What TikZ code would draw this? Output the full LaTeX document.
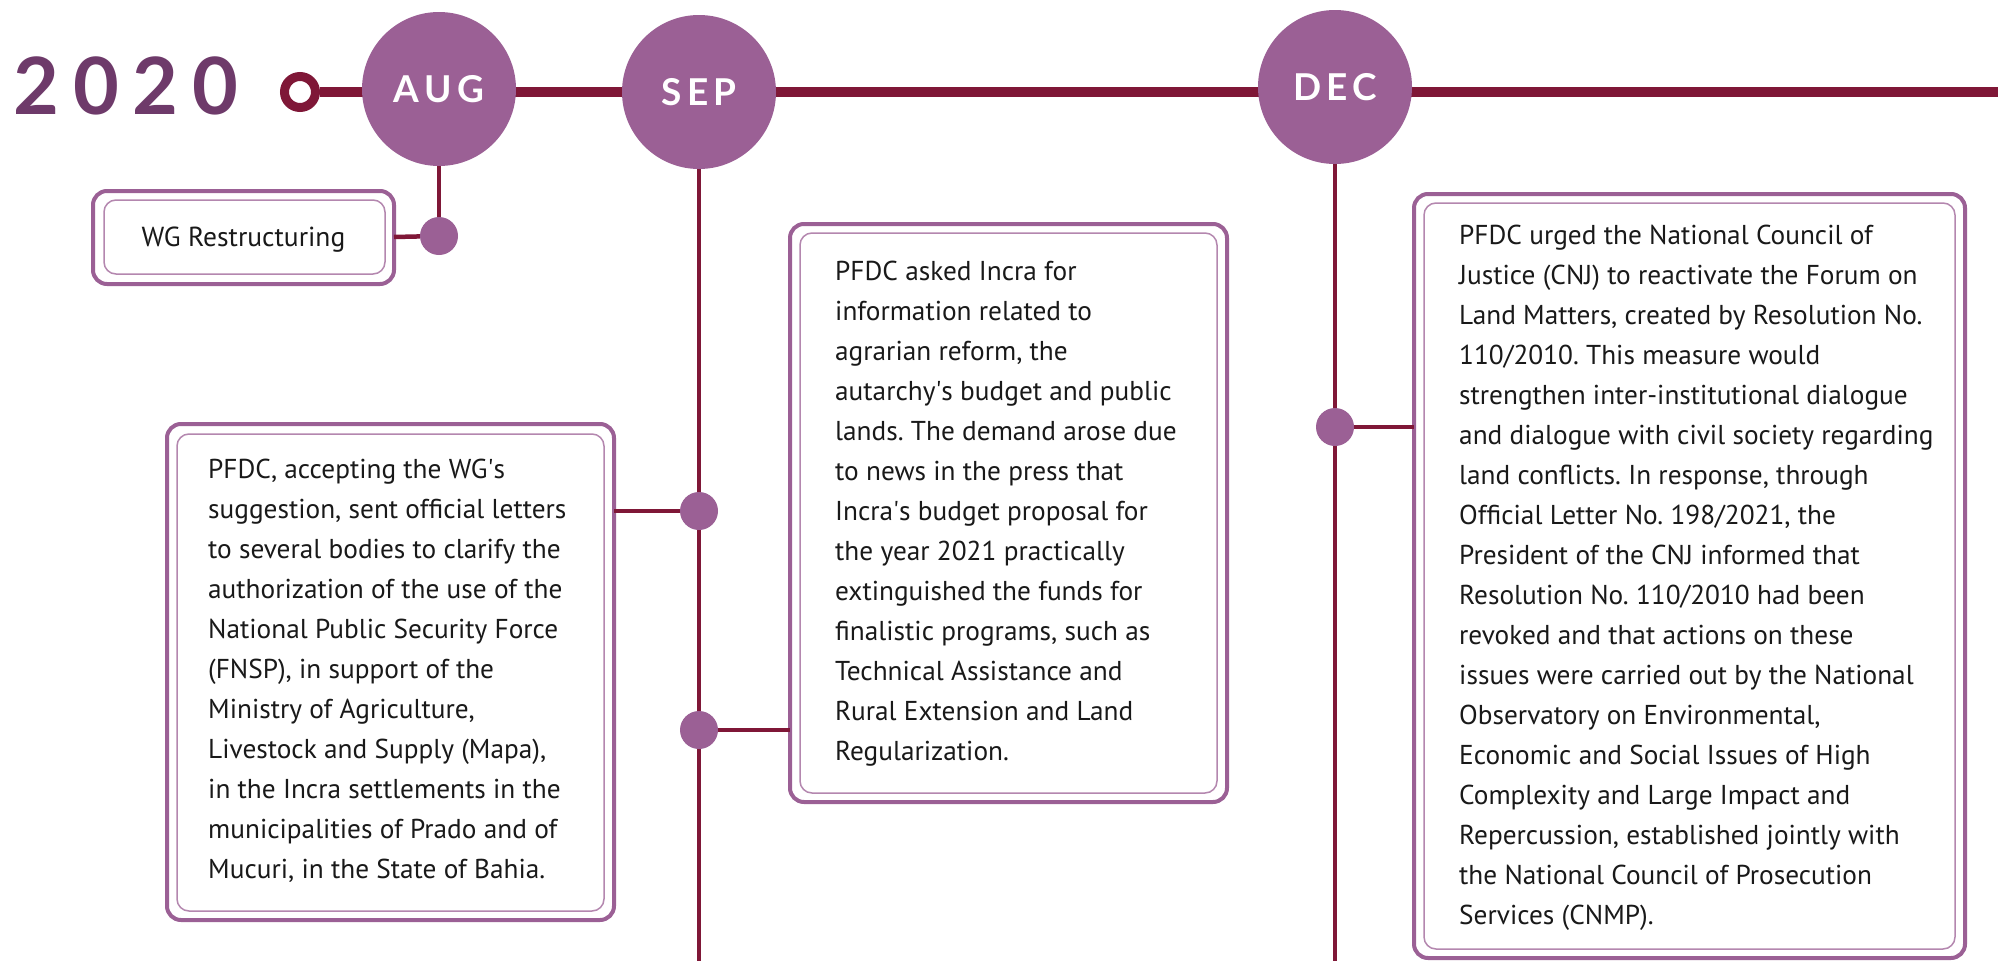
\documentclass[tikz,border=0pt]{standalone}
\usepackage{fontspec}
\setmainfont{PT Sans}
\newfontfamily\headfont{Lato}
\definecolor{maroon}{RGB}{127,23,55}
\definecolor{mpurple}{RGB}{155,96,149}
\definecolor{dpurple}{RGB}{110,58,106}
\definecolor{lpurple}{RGB}{180,135,175}
\definecolor{txt}{RGB}{25,25,25}
\newcommand{\sq}{\textquotesingle}
\frenchspacing
\tikzset{
  mainline/.style={draw=maroon, line width=10pt},
  stem/.style={draw=maroon, line width=4.5pt},
  month/.style={circle, fill=mpurple, minimum size=154pt, inner sep=0pt, text=white, font=\headfont\bfseries\fontsize{37}{37}\selectfont},
  dotnode/.style={circle, fill=mpurple, minimum size=38pt, inner sep=0pt},
  outerbox/.style={draw=mpurple, line width=4pt, rounded corners=14pt, fill=white},
  innerbox/.style={draw=lpurple, line width=1.5pt, rounded corners=12pt},
  bodytext/.style={anchor=north west, inner sep=0pt, align=left, text=txt, font=\frenchspacing\fontsize{27.3}{40}\selectfont},
}
\begin{document}
\begin{tikzpicture}[x=1pt,y=-1pt]
\useasboundingbox[fill=white] (0,0) rectangle (1998,961);
% year
\node[anchor=base west, inner sep=0pt, text=dpurple, font=\headfont\bfseries\fontsize{79}{79}\selectfont] (year) at (13,114) {2\hspace{14pt}0\hspace{14pt}2\hspace{14pt}0};
% start ring and main line
\coordinate (lineend) at (1998,92);
\node[circle, draw=maroon, line width=9pt, fill=white, minimum size=31pt, inner sep=0pt] (ring) at (300,92) {};
\draw[mainline] (ring.east) -- (lineend);
% months
\node[month] (aug) at (439,89) {A\hspace{5pt}U\hspace{5pt}G};
\node[month] (sep) at (699,92) {S\hspace{5pt}E\hspace{5pt}P};
\node[month] (dec) at (1335,87) {D\hspace{5pt}E\hspace{5pt}C};
% bottom coordinates
\coordinate (sepend) at (699,961);
\coordinate (decend) at (1335,961);
\draw[stem] (sep.south) -- (sepend);
\draw[stem] (dec.south) -- (decend);
% dots
\node[dotnode] (d1) at (439,236) {};
\draw[stem] (aug.south) -- (d1);
\node[dotnode] (d2) at (699,511) {};
\node[dotnode] (d3) at (699,730) {};
\node[dotnode] (d4) at (1335,427) {};
% WG box
\draw[outerbox] (93,191) rectangle (394,284);
\draw[innerbox] (104,200) rectangle (385,274);
\node[inner sep=0pt, text=txt, font=\fontsize{27.5}{32}\selectfont, anchor=base] (wg) at (243.5,246) {WG Restructuring};
\coordinate (wgR) at (394,237);
\draw[stem] (wgR) -- (d1);
% FNSP box
\draw[outerbox] (167,424) rectangle (614,920);
\draw[innerbox] (177,434) rectangle (604,911);
\node[bodytext] (fnsp) at (208,459) {PFDC, accepting the WG\sq s\\suggestion, sent official letters\\to several bodies to clarify the\\authorization of the use of the\\National Public Security Force\\(FNSP), in support of the\\Ministry of Agriculture,\\Livestock and Supply (Mapa),\\in the Incra settlements in the\\municipalities of Prado and of\\Mucuri, in the State of Bahia.};
\coordinate (fnspR) at (614,511);
\draw[stem] (fnspR) -- (d2);
% Incra box
\draw[outerbox] (790,224) rectangle (1227,802);
\draw[innerbox] (800,233) rectangle (1217,793);
\node[bodytext] (incra) at (835,261) {PFDC asked Incra for\\information related to\\agrarian reform, the\\autarchy\sq s budget and public\\lands. The demand arose due\\to news in the press that\\Incra\sq s budget proposal for\\the year 2021 practically\\extinguished the funds for\\finalistic programs, such as\\Technical Assistance and\\Rural Extension and Land\\Regularization.};
\coordinate (incraL) at (790,730);
\draw[stem] (d3) -- (incraL);
% DEC box
\draw[outerbox] (1414,194) rectangle (1965,958);
\draw[innerbox] (1424,203) rectangle (1955,949);
\node[bodytext] (cnj) at (1459,225) {PFDC urged the National Council of\\Justice (CNJ) to reactivate the Forum on\\Land Matters, created by Resolution No.\\110/2010. This measure would\\strengthen inter-institutional dialogue\\and dialogue with civil society regarding\\land conflicts. In response, through\\Official Letter No. 198/2021, the\\President of the CNJ informed that\\Resolution No. 110/2010 had been\\revoked and that actions on these\\issues were carried out by the National\\Observatory on Environmental,\\Economic and Social Issues of High\\Complexity and Large Impact and\\Repercussion, established jointly with\\the National Council of Prosecution\\Services (CNMP).};
\coordinate (cnjL) at (1414,427);
\draw[stem] (d4) -- (cnjL);
\end{tikzpicture}
\end{document}
